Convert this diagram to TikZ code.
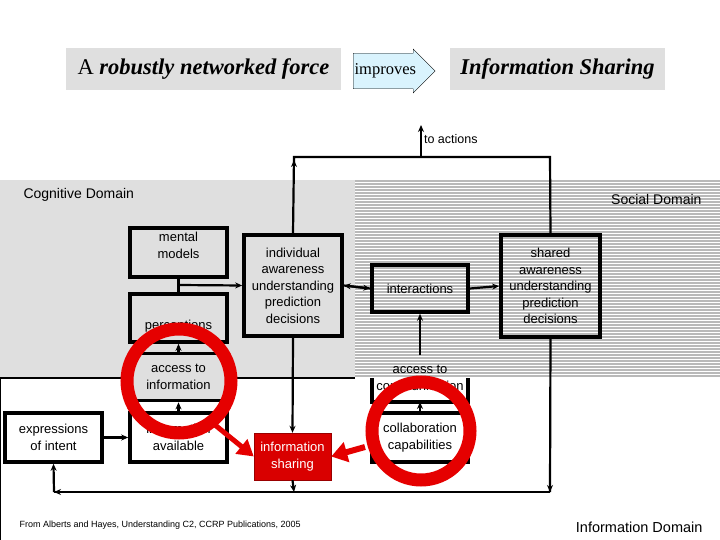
\documentclass[tikz,border=0pt]{standalone}
\usepackage{fontspec}
\setmainfont{Liberation Sans}
\newfontfamily\seriff{Liberation Serif}
\usetikzlibrary{arrows.meta,shapes.arrows}
\begin{document}
\begin{tikzpicture}[x=1pt,y=-1pt,
  bx/.style={draw,line width=3.6pt,fill=#1,inner sep=0pt,align=center,font=\fontsize{13}{16.5}\selectfont},
  bx/.default=none,
  ar/.style={line width=2.2pt,-{Stealth[length=7pt,width=6pt]}},
  ln/.style={line width=2.2pt},
  lbl/.style={font=\fontsize{14}{16}\selectfont}]
\useasboundingbox (0,0) rectangle (720,540);
% domains
\fill[gray!25] (0,180) rectangle (355,378);
\foreach \y in {180,183,...,377} \draw[gray!55,line width=1.6pt] (355,\y+0.8) -- (720,\y+0.8);
\draw[line width=1.4pt] (0,378) -- (355,378);
\draw[line width=1.4pt] (0,378) -- (0,540);
\node[lbl,anchor=west] (cog) at (20,195) {Cognitive Domain};
\node[lbl,anchor=east] (soc) at (705,199) {Social Domain};
\node[font=\fontsize{14.5}{16}\selectfont,anchor=east] (inf) at (706,527) {Information Domain};
\node[font=\fontsize{9}{10}\selectfont,anchor=west] (cite) at (16,525) {From Alberts and Hayes, Understanding C2, CCRP Publications, 2005};
% title
\node[fill=gray!25,minimum width=275pt,minimum height=42pt,font=\seriff\fontsize{22.5}{24}\selectfont] (t1) at (203.5,69) {A \textbf{\itshape robustly networked force}};
\node[single arrow,draw,fill=cyan!15,minimum height=82pt,minimum width=44pt,single arrow head extend=2pt,single arrow head indent=0pt,inner sep=1pt,font=\seriff\fontsize{16.5}{18}\selectfont,anchor=west] (imp) at (353,71) {improves\hspace{2pt}};
\node[fill=gray!25,minimum width=215pt,minimum height=42pt,font=\seriff\bfseries\itshape\fontsize{22.5}{24}\selectfont] (t2) at (557.5,69) {Information Sharing};
% boxes
\node[bx=gray!25,minimum width=97pt,minimum height=49pt] (mm) at (178.5,252.5) {mental\\models\\[-2pt]};
\node[bx=gray!25,minimum width=97pt,minimum height=48pt,text depth=0pt] (per) at (178.5,318) {\\[6pt]perceptions};
\node[bx=gray!25,minimum width=98pt,minimum height=101pt] (ind) at (293,285.5) {individual\\awareness\\understanding\\prediction\\decisions};
\node[bx=gray!25,minimum width=97pt,minimum height=47pt] (acc) at (178.5,377) {access to\\information};
\node[bx=white,minimum width=97pt,minimum height=49pt] (ava) at (178.5,437.5) {information\\available};
\node[bx=white,minimum width=97pt,minimum height=49pt] (exp) at (53.5,437.5) {expressions\\of intent};
\node[fill=red!85!black,draw=red!60!black,text=white,minimum width=77pt,minimum height=47pt,align=center,font=\fontsize{13}{16.5}\selectfont] (ish) at (292.5,456.5) {information\\sharing};
\node[bx=none,minimum width=96pt,minimum height=47pt] (int) at (420,288.5) {interactions};
\node[bx=none,minimum width=99pt,minimum height=102pt] (sha) at (550.5,286) {shared\\awareness\\understanding\\prediction\\decisions};
\node[bx=none,minimum width=96pt,minimum height=46pt,draw=none] (acm) at (420,378) {access to\\communication};
\draw[line width=3.6pt] (372,378) |- (468,402) -- (468,378);
\node[bx=white,minimum width=96pt,minimum height=49pt] (col) at (420,437.5) {collaboration\\capabilities};
% connectors
\coordinate (top) at (421,125);
\draw[ln] (ind.north) -- (294,157) -- (550,157) -- (sha.north);
\draw[ar] (421,157) -- (top) node[right,pos=0.55,font=\fontsize{12.5}{14}\selectfont,inner sep=2pt] (act) {to actions};
\draw[ar] (294,170) -- (294,160);
\draw[ln] (mm.south) -- (per.north);
\draw[ar] (178.5,285) -- (ind.west);
\draw[ar] (acc.north) -- (per.south);
\draw[ar] (ava.north) -- (acc.south);
\draw[ar] (exp.east) -- (ava.west);
\draw[ar] (ind.south) -- (ish.north);
\draw[ar] (ind.east) -- (int.west);
\draw[ar] (int.west) -- (ind.east);
\draw[ar] (int.east) -- (sha.west);
\draw[ar] (420,355) -- (int.south);
\draw[ar] (col.north) -- (420,402);
\draw[ln] (sha.south) -- (550,492);
\draw[ar] (550,480) -- (550,492);
\draw[ar] (ish.south) -- (294,492);
\draw[ln] (550,492) -- (54,492);
\draw[ar] (60,492) -- (54,492);
\draw[ar] (54,492) -- (exp.south);
% red highlights
\draw[red!90!black,line width=13pt] (179,381) circle (52pt);
\draw[red!90!black,line width=13pt] (421,431) circle (49pt);
\draw[red!90!black,line width=5pt,-{Triangle[length=16pt,width=18pt]}] (215,425) -- (ish.west);
\draw[red!90!black,line width=6pt,-{Triangle[length=16pt,width=20pt]}] (365,447) -- (ish.east);
\end{tikzpicture}
\end{document}
